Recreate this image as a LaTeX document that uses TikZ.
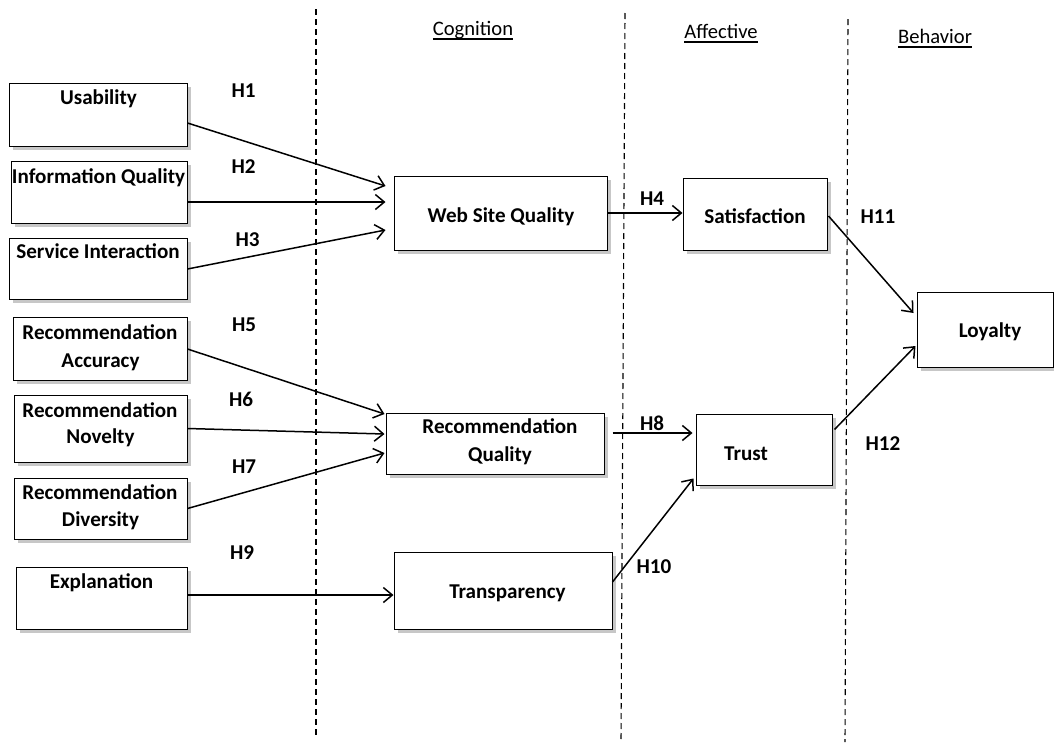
\documentclass[tikz,border=0pt]{standalone}
\usepackage{fontspec}
\setmainfont{Carlito}
\usetikzlibrary{arrows.meta,shadows,calc}
\newcommand\hdrul[1]{\setbox0\hbox{#1}\rlap{\rule[-5pt]{\wd0}{1.8pt}}\box0}
\begin{document}
\begin{tikzpicture}[x=1pt,y=-1pt,
 box/.style={draw=black, line width=1pt, fill=white, inner sep=0pt,
   drop shadow={shadow xshift=4pt, shadow yshift=-4pt, fill=black!22, opacity=1}},
 lbl/.style={font=\fontsize{21.1}{25}\selectfont\bfseries, anchor=base, inner sep=0pt},
 hdr/.style={font=\fontsize{20.6}{24}\selectfont, anchor=base, inner sep=0pt},
 arr/.style={-{Straight Barb[length=9pt,width=15pt]}, line width=1.5pt},
 sep/.style={dash pattern=on 6pt off 4pt, line width=1.1pt}]
\fill[white] (0,0) rectangle (1054,742);
\useasboundingbox (0,0) rectangle (1054,742);
% dashed separators
\coordinate (s1t) at (316,9);   \coordinate (s1b) at (316,736);
\coordinate (s2t) at (625,13);  \coordinate (s2b) at (621,742);
\coordinate (s3t) at (848,19);  \coordinate (s3b) at (845,742);
\draw[sep] (s1t) -- (s1b);
\draw[sep] (s2t) -- (s2b);
\draw[sep] (s3t) -- (s3b);
% boxes
\node[box, minimum width=178pt, minimum height=63pt] (usab) at (98,114.5) {};
\node[box, minimum width=176pt, minimum height=62pt] (info) at (99,192) {};
\node[box, minimum width=178pt, minimum height=61pt] (serv) at (98,268.5) {};
\node[box, minimum width=174pt, minimum height=63pt] (acc) at (100,348.5) {};
\node[box, minimum width=173pt, minimum height=67pt] (nov) at (100.5,428.5) {};
\node[box, minimum width=173pt, minimum height=61pt] (div) at (100.5,508.5) {};
\node[box, minimum width=171pt, minimum height=62pt] (expl) at (101.5,598) {};
\node[box, minimum width=213pt, minimum height=74pt] (wsq) at (500.5,213) {};
\node[box, minimum width=144pt, minimum height=72pt] (sat) at (755,214) {};
\node[box, minimum width=218pt, minimum height=61pt] (rq) at (495,443.5) {};
\node[box, minimum width=136pt, minimum height=71pt] (trust) at (764,449.5) {};
\node[box, minimum width=218pt, minimum height=77pt] (transp) at (503,590.5) {};
\node[box, minimum width=136pt, minimum height=75pt] (loyal) at (985,329.5) {};
% box texts
\node[lbl] (tusab) at (98.5,104) {Usability};
\node[lbl] (tinfo) at (98.5,183) {Information Quality};
\node[lbl] (tserv) at (98,258) {Service Interaction};
\node[lbl] (tacc1) at (100,339) {Recommendation};
\node[lbl] (tacc2) at (100.5,367) {Accuracy};
\node[lbl] (tnov1) at (100,417) {Recommendation};
\node[lbl] (tnov2) at (100.5,443) {Novelty};
\node[lbl] (tdiv1) at (100,499) {Recommendation};
\node[lbl] (tdiv2) at (100.5,526) {Diversity};
\node[lbl] (texpl) at (101.5,588) {Explanation};
\node[lbl] (twsq) at (501,222) {Web Site Quality};
\node[lbl] (tsat) at (755,223) {Satisfaction};
\node[lbl] (trq1) at (500,433) {Recommendation};
\node[lbl] (trq2) at (500,461) {Quality};
\node[lbl] (ttrust) at (746,460) {Trust};
\node[lbl] (ttransp) at (507.5,598) {Transparency};
\node[lbl] (tloyal) at (990,337) {Loyalty};
% headers
\node[hdr] (hcog) at (473,35) {\hdrul{Cognition}};
\node[hdr] (haff) at (721,38) {\hdrul{Affective}};
\node[hdr] (hbeh) at (935,43) {\hdrul{Behavior}};
% hypothesis labels
\node[lbl] (h1) at (243.5,97) {H1};
\node[lbl] (h2) at (243.5,173) {H2};
\node[lbl] (h3) at (247.5,246) {H3};
\node[lbl] (h5) at (244,331) {H5};
\node[lbl] (h6) at (241,406) {H6};
\node[lbl] (h7) at (244,473) {H7};
\node[lbl] (h9) at (242,559) {H9};
\node[lbl] (h4) at (652,205) {H4};
\node[lbl] (h8) at (652,430) {H8};
\node[lbl] (h10) at (654,573) {H10};
\node[lbl] (h11) at (878,223) {H11};
\node[lbl] (h12) at (883,450) {H12};
% arrows
\draw[arr] ($(usab.east)+(0,8.5)$) -- ($(wsq.west)+(-8,-27)$);
\draw[arr] ($(info.east)+(0,10)$) -- ($(wsq.west)+(-8,-11)$);
\draw[arr] ($(serv.east)+(0,0.5)$) -- ($(wsq.west)+(-8,17)$);
\draw[arr] ($(acc.east)+(0,0.5)$) -- ($(rq.west)+(-1,-29.5)$);
\draw[arr] (nov.east) -- ($(rq.west)+(-1,-9.5)$);
\draw[arr] (div.east) -- ($(rq.west)+(-1,9.5)$);
\draw[arr] ($(expl.east)+(0,-3)$) -- ($(transp.west)+(0,4.5)$);
\draw[arr] (wsq.east) -- ($(sat.west)+(0,-1)$);
\draw[arr] ($(rq.east)+(8,-10.5)$) -- ($(trust.west)+(-3,-16.5)$);
\draw[arr] ($(transp.east)+(0,-8.5)$) -- ($(trust.south west)+(-2,-7)$);
\draw[arr] ($(sat.east)+(1,2)$) -- ($(loyal.west)+(-3,-16.5)$);
\draw[arr] ($(trust.east)+(2,-20)$) -- ($(loyal.west)+(-1,16.5)$);
\end{tikzpicture}
\end{document}
